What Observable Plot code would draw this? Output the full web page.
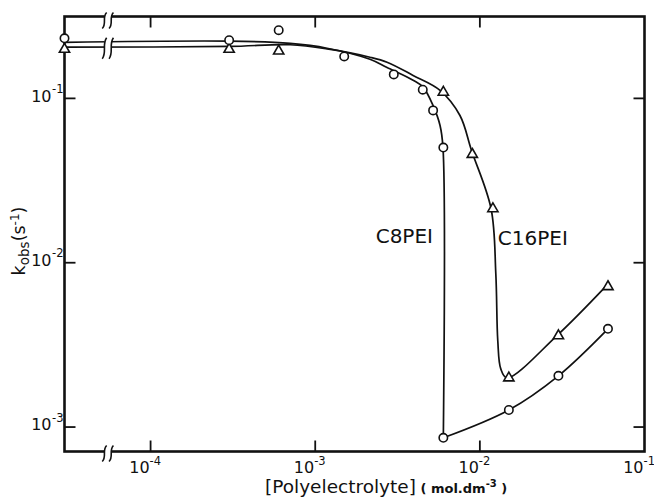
<!DOCTYPE html>
<html>
<head>
<meta charset="utf-8">
<script src="https://cdn.jsdelivr.net/npm/d3@7"></script>
<script src="https://cdn.jsdelivr.net/npm/@observablehq/plot@0.6"></script>
<style>
  html, body { margin: 0; padding: 0; background: #fff; }
  #chart svg { display: block; }
</style>
</head>
<body>
<div id="chart"></div>
<script>
// Measured rate constants, k_obs (s^-1), against polyelectrolyte concentration (mol dm^-3).
// A concentration of 0 (no polyelectrolyte) sits at the broken left edge of the axis.
const c8Conc  = [0, 3.0e-4, 6.0e-4, 1.5e-3, 3.0e-3, 4.5e-3, 5.2e-3, 6.0e-3, 6.0e-3, 1.5e-2, 3.0e-2, 6.0e-2];
const c8K     = [0.232, 0.226, 0.260, 0.180, 0.140, 0.113, 0.0845, 0.0502, 8.6e-4, 1.27e-3, 2.05e-3, 3.96e-3];
const c16Conc = [0, 3.0e-4, 6.0e-4, 6.0e-3, 9.0e-3, 1.2e-2, 1.5e-2, 3.0e-2, 6.0e-2];
const c16K    = [0.199, 0.199, 0.194, 0.109, 0.0456, 0.0213, 1.99e-3, 3.59e-3, 7.15e-3];

// Hand-drawn trend curves (nodes of the smooth guide lines)
const c8UpperConc = [0, 3.0e-4, 7.05e-4, 1.18e-3, 2.15e-3, 2.73e-3, 3.93e-3, 4.52e-3, 5.19e-3, 5.73e-3, 5.97e-3, 6.0e-3];
const c8UpperK    = [0.219, 0.223, 0.216, 0.202, 0.173, 0.154, 0.129, 0.117, 0.0906, 0.0684, 0.0502, 8.6e-4];
const c8LowerConc = [6.0e-3, 1.5e-2, 3.0e-2, 6.0e-2];
const c8LowerK    = [8.6e-4, 1.27e-3, 2.05e-3, 3.96e-3];
const c16CurveConc = [0, 3.0e-4, 7.05e-4, 1.18e-3, 2.15e-3, 2.73e-3, 3.93e-3, 5.73e-3, 7.57e-3, 8.9e-3, 1.17e-2, 1.25e-2, 1.285e-2, 1.34e-2, 1.46e-2, 2.93e-2, 5.8e-2];
const c16CurveK    = [0.205, 0.207, 0.212, 0.200, 0.178, 0.166, 0.138, 0.112, 0.0787, 0.0482, 0.0213, 8.57e-3, 3.34e-3, 2.26e-3, 1.99e-3, 3.59e-3, 7.15e-3];

// Axis ticks
const xTickVals = [1e-4, 1e-3, 1e-2, 1e-1];
const yTickVals = [1e-1, 1e-2, 1e-3];

// Series labels
const seriesNames = ["C8PEI", "C16PEI"];
const labelConc = [5.19e-3, 1.285e-2];
const labelK = [0.0144, 0.0140];

// Scale extents; the left edge stands for zero concentration
const xDomain = [3.0e-5, 1e-1];
const yDomain = [7.1e-4, 0.315];
const xBreak = 5.5e-5;
const breakK = 0.202;

const atX = c => (c === 0 ? xDomain[0] : c);
const pts = (xs, ys) => xs.map((c, i) => ({x: atX(c), y: ys[i]}));

const c8Pts = pts(c8Conc, c8K);
const c16Pts = pts(c16Conc, c16K);
const c8Curve = [
  ...pts(c8UpperConc, c8UpperK).map(d => ({...d, seg: "upper"})),
  ...pts(c8LowerConc, c8LowerK).map(d => ({...d, seg: "lower"}))
];
const c16Curve = pts(c16CurveConc, c16CurveK);

// Decade tick labels: "10" with a raised exponent
const expText = v => String(Math.round(Math.log10(v)));

// Inward tick marks drawn as small line symbols
const TICK = 11;
const tickSymbol = (dx, dy) => ({draw(ctx) { ctx.moveTo(0, 0); ctx.lineTo(dx * TICK, dy * TICK); }});

// Axis-break glyphs: a white gap flanked by two S-shaped strokes
const breakMask = (h, off) => ({draw(ctx) { ctx.rect(-3.2, -h / 2 + off, 6.4, h); }});
const breakStrokes = (h, off) => ({draw(ctx) {
  for (const cx of [-3.4, 3.4]) {
    ctx.moveTo(cx + 2.2, -h / 2 + off);
    ctx.bezierCurveTo(cx - 2.6, -h / 5 + off, cx + 2.6, h / 5 + off, cx - 2.2, h / 2 + off);
  }
}});

const breaks = [
  {y: yDomain[1], h: 16, off: 4},
  {y: breakK, h: 21, off: 0},
  {y: yDomain[0], h: 16, off: 2}
];

const font = "DejaVu Sans, sans-serif";
const ink = "#111";
const base = 16, sup = 11.5;

const chart = Plot.plot({
  width: 654,
  height: 502,
  marginLeft: 64,
  marginRight: 10,
  marginTop: 16,
  marginBottom: 51,
  style: {fontFamily: font, fontSize: "15px", color: ink, background: "#fff"},
  x: {type: "log", domain: xDomain, axis: null},
  y: {type: "log", domain: yDomain, axis: null},
  marks: [
    Plot.frame({stroke: ink, strokeWidth: 2.6}),
    // x tick labels
    Plot.text(xTickVals, {x: d => d, y: () => yDomain[0], text: () => "10", textAnchor: "end", dx: -1, dy: 16, fontSize: base, fill: ink}),
    Plot.text(xTickVals, {x: d => d, y: () => yDomain[0], text: expText, textAnchor: "start", dx: -1, dy: 10, fontSize: sup, fill: ink}),
    // y tick labels
    Plot.text(yTickVals, {x: () => xDomain[0], y: d => d, text: () => "10", textAnchor: "end", dx: -13, dy: -2, fontSize: base, fill: ink}),
    Plot.text(yTickVals, {x: () => xDomain[0], y: d => d, text: expText, textAnchor: "end", dx: -1, dy: -9, fontSize: sup, fill: ink}),
    // inward ticks on all four sides
    Plot.dot(xTickVals.slice(0, 3), {x: d => d, y: () => yDomain[0], symbol: tickSymbol(0, -1), stroke: ink, strokeWidth: 1.8, fill: "none"}),
    Plot.dot(xTickVals.slice(0, 3), {x: d => d, y: () => yDomain[1], symbol: tickSymbol(0, 1), stroke: ink, strokeWidth: 1.8, fill: "none"}),
    Plot.dot(yTickVals, {x: () => xDomain[0], y: d => d, symbol: tickSymbol(1, 0), stroke: ink, strokeWidth: 1.8, fill: "none"}),
    Plot.dot(yTickVals, {x: () => xDomain[1], y: d => d, symbol: tickSymbol(-1, 0), stroke: ink, strokeWidth: 1.8, fill: "none"}),
    // trend curves
    Plot.line(c8Curve, {x: "x", y: "y", z: "seg", curve: "catmull-rom", stroke: ink, strokeWidth: 1.7}),
    Plot.line(c16Curve, {x: "x", y: "y", curve: "catmull-rom", stroke: ink, strokeWidth: 1.7}),
    // axis breaks
    ...breaks.map(b => Plot.dot([b], {x: () => xBreak, y: "y", symbol: breakMask(b.h - 4, b.off), fill: "#fff", stroke: "none"})),
    ...breaks.map(b => Plot.dot([b], {x: () => xBreak, y: "y", symbol: breakStrokes(b.h, b.off), fill: "none", stroke: ink, strokeWidth: 1.6})),
    // data points
    Plot.dot(c16Pts, {x: "x", y: "y", symbol: "triangle", r: 3.8, fill: "#fff", stroke: ink, strokeWidth: 1.6}),
    Plot.dot(c8Pts, {x: "x", y: "y", symbol: "circle", r: 4.2, fill: "#fff", stroke: ink, strokeWidth: 1.6}),
    // series labels
    Plot.text([seriesNames[0]], {x: () => labelConc[0], y: () => labelK[0], text: d => d, textAnchor: "end", fontSize: 20, fill: ink}),
    Plot.text([seriesNames[1]], {x: () => labelConc[1], y: () => labelK[1], text: d => d, textAnchor: "start", fontSize: 20, fill: ink})
  ]
});

document.getElementById("chart").appendChild(chart);

// Axis titles with sub/superscripts
const svg = d3.select(chart);
const yTitle = svg.append("text")
  .attr("transform", "translate(25,241) rotate(-90)")
  .attr("text-anchor", "middle")
  .attr("fill", ink)
  .style("font-family", font)
  .style("font-size", "17.5px");
yTitle.append("tspan").text("k");
yTitle.append("tspan").attr("dy", 4).style("font-size", "13.5px").text("obs");
yTitle.append("tspan").attr("dy", -4).text("(s");
yTitle.append("tspan").attr("dy", -6).style("font-size", "12px").text("-1");
yTitle.append("tspan").attr("dy", 6).text(")");

const xTitle = svg.append("text")
  .attr("x", 265)
  .attr("y", 493)
  .attr("text-anchor", "start")
  .attr("fill", ink)
  .style("font-family", font)
  .style("font-size", "18.5px");
xTitle.append("tspan").text("[Polyelectrolyte]");
xTitle.append("tspan").style("font-size", "13px").style("font-weight", "bold").text(" ( mol.dm");
xTitle.append("tspan").attr("dy", -6).style("font-size", "10px").style("font-weight", "bold").text("-3");
xTitle.append("tspan").attr("dy", 6).style("font-size", "13px").style("font-weight", "bold").text(" )");
</script>
</body>
</html>
